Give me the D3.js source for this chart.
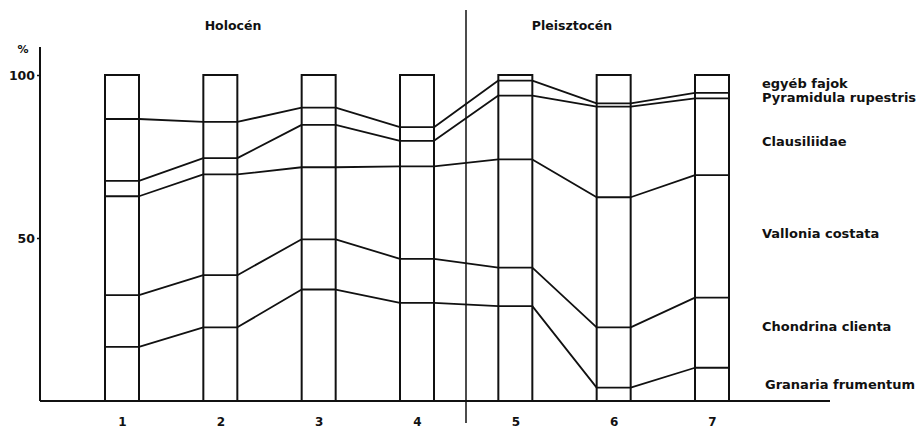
<!DOCTYPE html>
<html>
<head>
<meta charset="utf-8">
<script src="https://cdnjs.cloudflare.com/ajax/libs/d3/7.8.5/d3.min.js"></script>
<style>
  body { margin: 0; background: #fff; }
  text { font-family: "DejaVu Sans", sans-serif; font-weight: bold; fill: #111; }
</style>
</head>
<body>
<script>
// sample numbers along the x axis
var samples = ['1', '2', '3', '4', '5', '6', '7'];
// species, bottom to top
var species = ['Granaria frumentum', 'Chondrina clienta', 'Vallonia costata', 'Clausiliidae', 'Pyramidula rupestris', 'egyéb fajok'];
// share of each species per sample, %
var granaria = [16.6, 22.6, 34.2, 30.1, 29.1, 4.1, 10.2];
var chondrina = [15.9, 16.0, 15.4, 13.5, 11.8, 18.5, 21.5];
var vallonia = [30.3, 30.9, 22.1, 28.4, 33.2, 39.9, 37.6];
var clausiliidae = [4.7, 5.0, 13.0, 7.8, 19.6, 27.8, 23.5];
var pyramidula = [19.0, 11.1, 5.3, 4.2, 4.6, 1.0, 1.7];
var egyeb = [13.5, 14.4, 10.0, 16.0, 1.7, 8.7, 5.5];
var yTicks = [50, 100];
var periods = ['Holocén', 'Pleisztocén'];

var width = 921, height = 428;
var barWidth = 34;
var font = '"DejaVu Sans", sans-serif';

var svg = d3.select('body').append('svg')
  .attr('width', width)
  .attr('height', height);

var x = d3.scalePoint().domain(samples).range([122, 712]);
var y = d3.scaleLinear().domain([0, 100]).range([401, 75]);

var seriesValues = [granaria, chondrina, vallonia, clausiliidae, pyramidula, egyeb];
var rows = samples.map(function(s, i) {
  var row = { sample: s };
  species.forEach(function(sp, k) { row[sp] = seriesValues[k][i]; });
  return row;
});
var stacked = d3.stack().keys(species)(rows);

// axes lines
svg.append('line')
  .attr('x1', 40).attr('x2', 830)
  .attr('y1', y(0)).attr('y2', y(0))
  .attr('stroke', '#111').attr('stroke-width', 2);
svg.append('line')
  .attr('x1', 40).attr('x2', 40)
  .attr('y1', 47).attr('y2', y(0))
  .attr('stroke', '#111').attr('stroke-width', 2);

var yAxis = svg.append('g')
  .attr('transform', 'translate(40,0)')
  .call(d3.axisLeft(y).tickValues(yTicks).tickSize(3).tickPadding(2));
yAxis.select('.domain').remove();
yAxis.selectAll('line').attr('stroke', '#111').attr('stroke-width', 1.5);
yAxis.selectAll('text').style('font-size', '12.5px').style('font-family', font).style('font-weight', 'bold').attr('fill', '#111');

svg.append('text')
  .attr('x', 23).attr('y', 53)
  .attr('text-anchor', 'middle')
  .style('font-size', '11px')
  .text('%');

var xAxis = svg.append('g')
  .attr('transform', 'translate(0,' + y(0) + ')')
  .call(d3.axisBottom(x).tickSize(0).tickPadding(16));
xAxis.select('.domain').remove();
xAxis.selectAll('text').style('font-size', '12px').style('font-family', font).style('font-weight', 'bold').attr('fill', '#111');

// period divider and titles
svg.append('line')
  .attr('x1', 466).attr('x2', 466)
  .attr('y1', 10).attr('y2', 423)
  .attr('stroke', '#111').attr('stroke-width', 1.5);
svg.selectAll('.period')
  .data(periods)
  .enter().append('text')
  .attr('class', 'period')
  .attr('x', function(d, i) { return i === 0 ? 233 : 572; })
  .attr('y', 30)
  .attr('text-anchor', 'middle')
  .style('font-size', '12.5px')
  .text(function(d) { return d; });

// bar outlines
svg.selectAll('.bar')
  .data(samples)
  .enter().append('rect')
  .attr('class', 'bar')
  .attr('x', function(d) { return x(d) - barWidth / 2; })
  .attr('y', y(100))
  .attr('width', barWidth)
  .attr('height', y(0) - y(100))
  .attr('fill', 'none')
  .attr('stroke', '#111')
  .attr('stroke-width', 2);

// boundary lines between species (skip the top one, it's the bar top)
var boundaries = stacked.slice(0, stacked.length - 1);
svg.selectAll('.boundary')
  .data(boundaries)
  .enter().append('path')
  .attr('class', 'boundary')
  .attr('fill', 'none')
  .attr('stroke', '#111')
  .attr('stroke-width', 1.8)
  .attr('stroke-linejoin', 'round')
  .attr('d', function(layer) {
    var pts = [];
    layer.forEach(function(p, i) {
      var cx = x(samples[i]);
      pts.push([cx - barWidth / 2, y(p[1])]);
      pts.push([cx + barWidth / 2, y(p[1])]);
    });
    return d3.line()(pts);
  });

// species labels on the right
var labelY = {
  'egyéb fajok': 83,
  'Pyramidula rupestris': 97,
  'Clausiliidae': 141,
  'Vallonia costata': 233,
  'Chondrina clienta': 326,
  'Granaria frumentum': 384
};
svg.selectAll('.species')
  .data(species)
  .enter().append('text')
  .attr('class', 'species')
  .attr('x', function(d) { return d === 'Granaria frumentum' ? 765 : 762; })
  .attr('y', function(d) { return labelY[d]; })
  .attr('dy', '0.35em')
  .style('font-size', '13px')
  .text(function(d) { return d; });
</script>
</body>
</html>
